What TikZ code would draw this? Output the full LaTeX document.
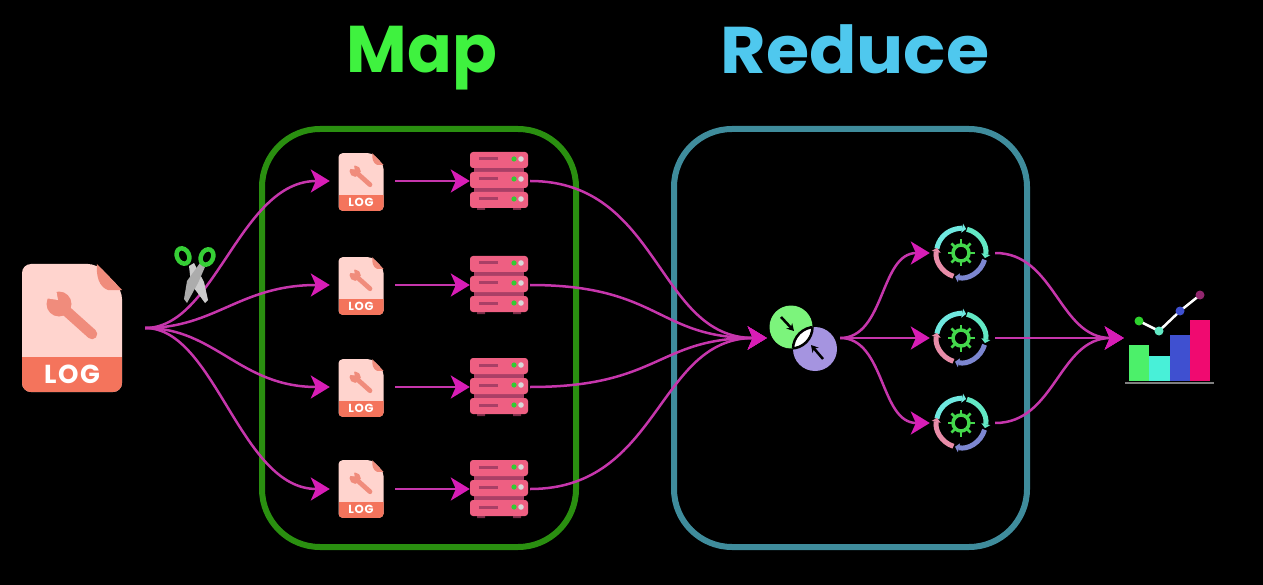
\documentclass[tikz,border=0pt]{standalone}
\usepackage{fontspec}
\setmainfont{Poppins}
\newfontfamily\logfont[LetterSpace=6]{Poppins}
\usetikzlibrary{arrows.meta}
\definecolor{mapgreen}{HTML}{3FF23F}
\definecolor{redblue}{HTML}{4FC8EE}
\definecolor{mapbox}{HTML}{2A8F10}
\definecolor{redbox}{HTML}{3F8C9C}
\definecolor{wire}{HTML}{C636AC}
\definecolor{tipc}{HTML}{D81DB6}
\definecolor{filebody}{HTML}{FFD4CE}
\definecolor{fileband}{HTML}{F4745C}
\definecolor{filefold}{HTML}{F08C7C}
\definecolor{srv}{HTML}{EE5F82}
\definecolor{srvd}{HTML}{A93F66}
\definecolor{gcyan}{HTML}{6FE8E0}
\definecolor{gteal}{HTML}{62E8C4}
\definecolor{gperi}{HTML}{7C86D0}
\definecolor{gpink}{HTML}{E88CA8}
\definecolor{ggreen}{HTML}{44D84C}
\definecolor{mergegreen}{HTML}{7CF47C}
\definecolor{mergepurple}{HTML}{A594E0}
\definecolor{bargreen}{HTML}{4CF06A}
\definecolor{barcyan}{HTML}{48F0D8}
\definecolor{barblue}{HTML}{3F50D0}
\definecolor{barpink}{HTML}{F00A70}
\tikzset{
  title/.style={font=\fontsize{66}{66}\selectfont\bfseries,inner sep=0pt,anchor=base},
  anchorbox/.style={inner sep=0pt,minimum height=10pt},
  frame/.style={line width=6pt,rounded corners=58pt},
  flow/.style={draw=wire,line width=2.5pt,-{Stealth[length=19pt,width=23pt,inset=5pt,fill=tipc,color=tipc]}},
  ringarc/.style={line width=5pt,-{Triangle[length=4pt,width=9pt]}}
}
\newcommand{\logicon}[4]{%
  \begin{scope}[shift={(#2,#3)},scale=#4]
    \fill[filebody,rounded corners=#4*9pt] (-50,-64) -- (25,-64) -- (50,-38) -- (50,64) -- (-50,64) -- cycle;
    \begin{scope}
      \clip[rounded corners=#4*9pt] (-50,-64) -- (25,-64) -- (50,-38) -- (50,64) -- (-50,64) -- cycle;
      \fill[fileband] (-50,29) rectangle (50,64);
    \end{scope}
    \fill[filefold] (25,-64) -- (50,-38) -- (36,-38) .. controls (27,-41) and (24,-52) .. cycle;
    \draw[filefold,line width=#4*10.5pt,line cap=round] (-9,-20) -- (20,6);
    \fill[filefold] (-13,-24) circle (12.5);
    \fill[filebody] (-27,-30) -- (-14,-28) -- (-16,-39) -- cycle;
    \node[transform shape,text=white,inner sep=0pt,font=\logfont\fontsize{26}{26}\selectfont\bfseries] (#1) at (0,46) {LOG};
  \end{scope}}
\newcommand{\servericon}[2]{%
  \begin{scope}[shift={(#1,#2)}]
    \fill[srvd] (-25,-12) rectangle (25,12);
    \fill[srvd!70!black] (-22,27) rectangle (-14,30) (14,27) rectangle (22,30);
    \foreach \yy in {-20,0,20}{
      \fill[srv,rounded corners=3pt] (-29,\yy-8) rectangle (29,\yy+8);
      \draw[srvd,line width=3pt] (-20,\yy-1) -- (-1,\yy-1);
      \fill[green!60!gray] (15,\yy-1) circle (2.6);
      \fill[gray!30] (22,\yy-1) circle (2.8);
    }
  \end{scope}}
\newcommand{\gearicon}[2]{%
  \begin{scope}[shift={(#1,#2)}]
    \draw[gcyan,ringarc] (170:24.5pt) arc[start angle=170,end angle=78,radius=24.5pt];
    \draw[gteal,ringarc] (76:24.5pt) arc[start angle=76,end angle=-12,radius=24.5pt];
    \draw[gperi,ringarc] (-16:24.5pt) arc[start angle=-16,end angle=-104,radius=24.5pt];
    \draw[gpink,ringarc] (-108:24.5pt) arc[start angle=-108,end angle=-192,radius=24.5pt];
    \draw[ggreen,line width=3.5pt] (0,0) circle (8);
    \foreach \aa in {0,45,...,315}{\draw[ggreen,line width=2.5pt] (\aa:9pt) -- (\aa:13.5pt);}
  \end{scope}}
\begin{document}
\begin{tikzpicture}[x=1pt,y=-1pt]
\fill[black] (0,0) rectangle (1263,585);
\useasboundingbox (0,0) rectangle (1263,585);
% titles
\node[title,text=mapgreen] (maptitle) at (422,73) {Map};
\node[title,text=redblue,xscale=1.06,transform shape] (redtitle) at (855,74) {Reduce};
% frames
\draw[frame,draw=mapbox] (262,129) rectangle (576,547);
\draw[frame,draw=redbox] (674,129) rectangle (1027,547);
% anchors
\node[anchorbox,minimum width=123pt] (src) at (83.5,328) {};
\foreach \n/\yy in {1/181,2/285,3/387,4/489}{
  \node[anchorbox,minimum width=65pt] (f\n) at (362.5,\yy) {};
  \node[anchorbox,minimum width=60pt] (s\n) at (500,\yy) {};
}
\node[anchorbox,minimum width=73pt] (merge) at (803.5,338) {};
\foreach \n/\yy in {1/253,2/338,3/423}{
  \node[anchorbox,minimum width=65pt] (g\n) at (962.5,\yy) {};
}
\node[anchorbox,minimum width=90pt] (chart) at (1169,338) {};
% connectors
\foreach \n in {1,2,3,4}{
  \draw[flow] (src.east) .. controls +(70,0) and +(-90,0) .. (f\n.west);
  \draw[flow] (f\n.east) -- (s\n.west);
  \draw[flow] (s\n.east) .. controls +(130,0) and +(-110,0) .. (merge.west);
}
\foreach \n in {1,2,3}{
  \draw[flow] (merge.east) .. controls +(45,0) and +(-50,0) .. (g\n.west);
  \draw[flow] (g\n.east) .. controls +(60,0) and +(-65,0) .. (chart.west);
}
% scissors
\fill[gray!40] (189,266) -- (194,263) -- (204,282) -- (208,300) -- (205,303) -- (191,284) -- cycle;
\fill[gray!65] (200,263) -- (205,267) -- (198,283) -- (187,303) -- (184,299) -- (187,281) -- cycle;
\draw[mapgreen!85!black,line width=4.5pt,rotate around={25:(183,256)}] (183,256) ellipse (6 and 8);
\draw[mapgreen!85!black,line width=4.5pt,rotate around={-25:(207,257)}] (207,257) ellipse (6 and 8);
% icons
\logicon{biglog}{72}{328}{1}
\logicon{l1}{361}{182}{.45}
\logicon{l2}{361}{286}{.45}
\logicon{l3}{361}{388}{.45}
\logicon{l4}{361}{489}{.45}
\servericon{499}{180}
\servericon{499}{284}
\servericon{499}{386}
\servericon{499}{488}
\gearicon{961}{253}
\gearicon{961}{338}
\gearicon{961}{423}
% merge icon
\fill[mergegreen] (791,327) circle (21.5);
\fill[mergepurple] (815,349) circle (22);
\begin{scope}
  \clip (791,327) circle (21.5);
  \fill[white] (815,349) circle (22);
  \draw[black,line width=2.5pt] (815,349) circle (22);
\end{scope}
\begin{scope}
  \clip (815,349) circle (22);
  \draw[black,line width=2.5pt] (791,327) circle (21.5);
\end{scope}
\draw[black,line width=2.5pt,-{Stealth[length=7pt,width=8pt]}] (781,317) -- (794,331);
\draw[black,line width=2.5pt,-{Stealth[length=7pt,width=8pt]}] (823,359) -- (811,345);
% chart
\fill[bargreen] (1129,345) rectangle (1149,381);
\fill[barcyan] (1149,356) rectangle (1170,381);
\fill[barblue] (1170,335) rectangle (1190,381);
\fill[barpink] (1190,320) rectangle (1210,381);
\draw[gray,line width=2.5pt] (1125,383) -- (1214,383);
\draw[white,line width=2.5pt] (1139,321) -- (1159,331) -- (1180,311) -- (1200,295);
\fill[green!65!gray] (1139,321) circle (4.5);
\fill[gteal] (1159,331) circle (4.5);
\fill[barblue] (1180,311) circle (4.5);
\fill[red!60!blue!70!gray] (1200,295) circle (4.5);
\end{tikzpicture}
\end{document}
